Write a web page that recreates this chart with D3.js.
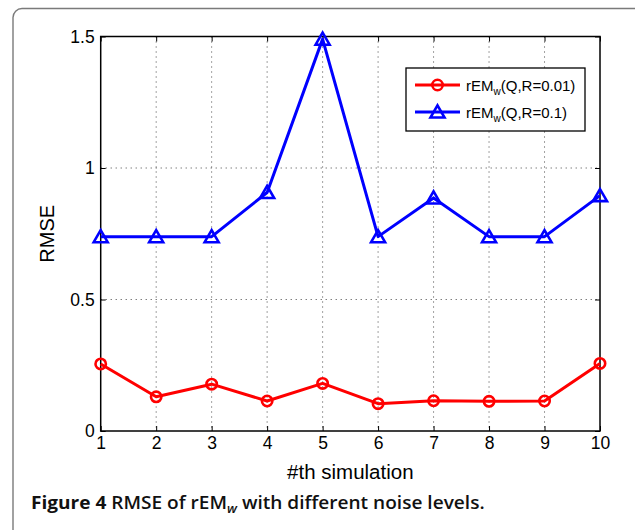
<!DOCTYPE html>
<html>
<head>
<meta charset="utf-8">
<script src="https://cdn.jsdelivr.net/npm/d3@7"></script>
<style>
  html, body { margin: 0; padding: 0; background: #fff; }
  svg { display: block; }
</style>
</head>
<body>
<svg id="chart" width="635" height="530"></svg>
<script>
// Simulation index on the x axis
const simulations = [1, 2, 3, 4, 5, 6, 7, 8, 9, 10];
// RMSE of rEM_w for the low measurement-noise case (R = 0.01)
const rmseLowNoise = [0.255, 0.130, 0.178, 0.114, 0.181, 0.104, 0.115, 0.113, 0.114, 0.257];
// RMSE of rEM_w for the high measurement-noise case (R = 0.1)
const rmseHighNoise = [0.739, 0.739, 0.739, 0.907, 1.490, 0.739, 0.886, 0.739, 0.739, 0.895];
// Axis ticks
const xTicks = [1, 2, 3, 4, 5, 6, 7, 8, 9, 10];
const yTicks = [0, 0.5, 1, 1.5];
const yTickLabels = ["0", "0.5", "1", "1.5"];
// Legend entries
const seriesNames = ["(Q,R=0.01)", "(Q,R=0.1)"];

const svg = d3.select("#chart");
const plot = { left: 100.7, right: 600, top: 36.5, bottom: 431 };

const x = d3.scaleLinear().domain([1, 10]).range([plot.left, plot.right]);
const y = d3.scaleLinear().domain([0, 1.5]).range([plot.bottom, plot.top]);

// Outer figure frame with rounded corners
svg.append("rect")
  .attr("x", 13).attr("y", 8.5)
  .attr("width", 640).attr("height", 560)
  .attr("rx", 9).attr("ry", 9)
  .attr("fill", "none")
  .attr("stroke", "#7a7a7a")
  .attr("stroke-width", 1.4);

// Dotted grid
const grid = svg.append("g").attr("class", "grid");
grid.selectAll("line.vx")
  .data(xTicks.slice(1, -1))
  .join("line")
  .attr("x1", d => x(d)).attr("x2", d => x(d))
  .attr("y1", plot.top).attr("y2", plot.bottom)
  .attr("stroke", "#444").attr("stroke-width", 1)
  .attr("stroke-dasharray", "1,4");
grid.selectAll("line.hy")
  .data(yTicks.slice(1, -1))
  .join("line")
  .attr("x1", plot.left).attr("x2", plot.right)
  .attr("y1", d => y(d)).attr("y2", d => y(d))
  .attr("stroke", "#444").attr("stroke-width", 1)
  .attr("stroke-dasharray", "1,4");

// Axes: inward ticks on all four sides, labels on bottom and left
const tickLen = 5;
const fontAxis = "'Liberation Sans', Arial, Helvetica, sans-serif";

const xAxisBottom = d3.axisBottom(x).tickValues(xTicks).tickSize(-tickLen).tickPadding(6).tickFormat(d3.format("d"));
const xAxisTop = d3.axisTop(x).tickValues(xTicks).tickSize(-tickLen).tickFormat("");
const yAxisLeft = d3.axisLeft(y).tickValues(yTicks).tickSize(-tickLen).tickPadding(6).tickFormat((d, i) => yTickLabels[i]);
const yAxisRight = d3.axisRight(y).tickValues(yTicks).tickSize(-tickLen).tickFormat("");

function styleAxis(g) {
  g.select(".domain").remove();
  g.selectAll(".tick line").attr("stroke", "#000").attr("stroke-width", 1);
  g.selectAll(".tick text").attr("fill", "#000").attr("font-family", fontAxis).attr("font-size", 17.5);
}

svg.append("g").attr("transform", `translate(0,${plot.bottom})`).call(xAxisBottom).call(styleAxis);
svg.append("g").attr("transform", `translate(0,${plot.top})`).call(xAxisTop).call(styleAxis);
svg.append("g").attr("transform", `translate(${plot.left},0)`).call(yAxisLeft).call(styleAxis);
svg.append("g").attr("transform", `translate(${plot.right},0)`).call(yAxisRight).call(styleAxis);

// Plot box
svg.append("rect")
  .attr("x", plot.left).attr("y", plot.top)
  .attr("width", plot.right - plot.left).attr("height", plot.bottom - plot.top)
  .attr("fill", "none").attr("stroke", "#000").attr("stroke-width", 1.5);

// Axis titles
svg.append("text")
  .attr("x", (plot.left + plot.right) / 2).attr("y", 479)
  .attr("text-anchor", "middle")
  .attr("font-family", fontAxis).attr("font-size", 20.5)
  .text("#th simulation");
svg.append("text")
  .attr("transform", `translate(54,${(plot.top + plot.bottom) / 2}) rotate(-90)`)
  .attr("text-anchor", "middle")
  .attr("font-family", fontAxis).attr("font-size", 20)
  .text("RMSE");

// Series
const line = d3.line().x((d, i) => x(simulations[i])).y(d => y(d));
const triangle = d3.symbol().type(d3.symbolTriangle).size(85);

function drawSeries(values, color, marker) {
  const g = svg.append("g");
  g.append("path")
    .datum(values)
    .attr("d", line)
    .attr("fill", "none")
    .attr("stroke", color)
    .attr("stroke-width", 3)
    .attr("stroke-linejoin", "round");
  const pts = g.selectAll(".pt").data(values).join("g")
    .attr("transform", (d, i) => `translate(${x(simulations[i])},${y(d)})`);
  if (marker === "circle") {
    pts.append("circle").attr("r", 5.2)
      .attr("fill", "none").attr("stroke", color).attr("stroke-width", 2.6);
  } else {
    pts.append("path").attr("d", triangle).attr("transform", "translate(0,1.5)")
      .attr("fill", "none").attr("stroke", color).attr("stroke-width", 2.6)
      .attr("stroke-linejoin", "miter");
  }
}

drawSeries(rmseLowNoise, "#ff0000", "circle");
drawSeries(rmseHighNoise, "#0000ff", "triangle");

// Legend
const legend = svg.append("g");
legend.append("rect")
  .attr("x", 406).attr("y", 68).attr("width", 179).attr("height", 63)
  .attr("fill", "#fff").attr("stroke", "#000").attr("stroke-width", 1.3);

const legendRows = [
  { name: seriesNames[0], color: "#ff0000", marker: "circle", cy: 85 },
  { name: seriesNames[1], color: "#0000ff", marker: "triangle", cy: 112 }
];
legendRows.forEach(r => {
  legend.append("line")
    .attr("x1", 415).attr("x2", 460).attr("y1", r.cy).attr("y2", r.cy)
    .attr("stroke", r.color).attr("stroke-width", 3);
  if (r.marker === "circle") {
    legend.append("circle").attr("cx", 437.5).attr("cy", r.cy).attr("r", 5.2)
      .attr("fill", "none").attr("stroke", r.color).attr("stroke-width", 2.6);
  } else {
    legend.append("path").attr("d", triangle)
      .attr("transform", `translate(437.5,${r.cy + 1.5})`)
      .attr("fill", "none").attr("stroke", r.color).attr("stroke-width", 2.6);
  }
  const t = legend.append("text")
    .attr("x", 466).attr("y", r.cy + 5.5)
    .attr("font-family", fontAxis).attr("font-size", 15);
  t.append("tspan").text("rEM");
  t.append("tspan").attr("font-size", 10).attr("dy", 4).text("w");
  t.append("tspan").attr("dy", -4).text(r.name);
});

// Figure caption, set at full size and narrowed horizontally to its column width
const capFont = "'Open Sans', 'Noto Sans', sans-serif";
const capX = 31, capY = 509;
const captionG = svg.append("g");
const caption = captionG.append("text")
  .attr("x", 0).attr("y", 0)
  .attr("font-family", capFont).attr("font-size", 18)
  .attr("fill", "#111");
caption.append("tspan").attr("font-weight", 700).text("Figure 4 ");
caption.append("tspan").attr("font-weight", 650).text("RMSE of rEM");
caption.append("tspan").attr("font-weight", 650).attr("font-style", "italic")
  .attr("font-size", 12.5).attr("dy", 3.5).text("w");
caption.append("tspan").attr("font-weight", 650).attr("dy", -3.5).text(" with different noise levels.");
const capWidth = caption.node().getComputedTextLength();
const sx = 454 / capWidth;
captionG.attr("transform", `translate(${capX},${capY}) scale(${sx},1)`);
</script>
</body>
</html>
